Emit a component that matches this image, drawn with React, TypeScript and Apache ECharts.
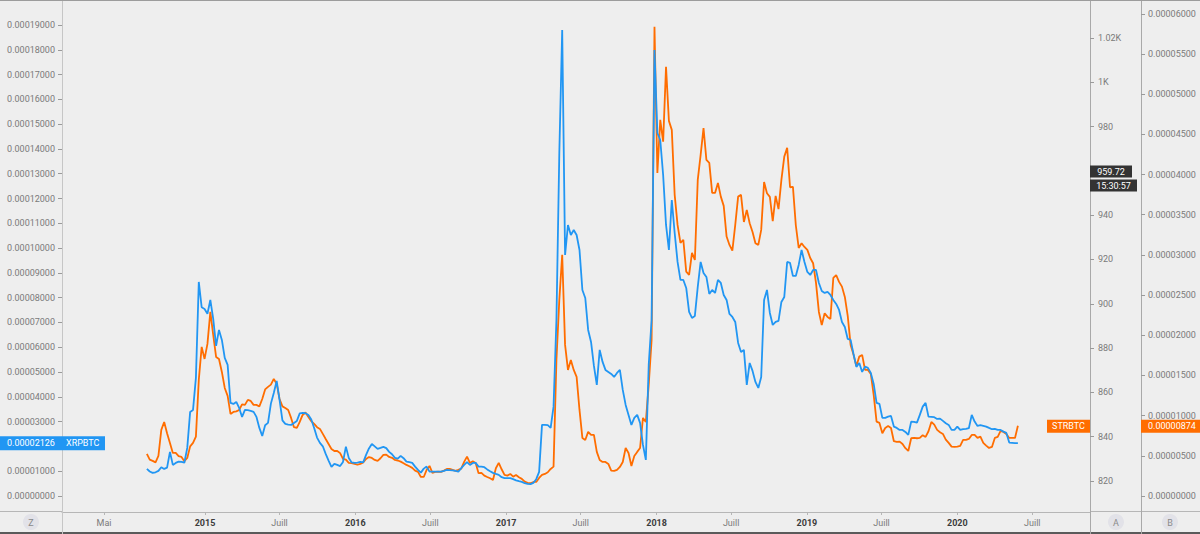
import React, { useEffect, useRef } from 'react';
import * as echarts from 'echarts';

// ---- data (weekly samples starting at START_DATE) ----
const START_DATE = '2014-08-13';
const STEP_DAYS = 7;
const SAT = 1e-8; // values below are in satoshi

// XRPBTC (blue, left scale)
const XRP_SATS = [
  1089, 984, 928, 952, 1009, 1158, 1089, 1138, 1775, 1251,
  1331, 1384, 1372, 1339, 1936, 3389, 3469, 4760, 8633, 7612,
  7544, 7350, 7907, 7140, 6051, 6696, 6293, 5567, 5285, 3752,
  3711, 3792, 3550, 3187, 3469, 3457, 3429, 3389, 3187, 2743,
  2420, 2852, 2945, 3723, 4155, 4639, 3873, 3046, 2904, 2880,
  2864, 2945, 3026, 3328, 3348, 3336, 3268, 3086, 2743, 2352,
  2138, 2001, 1694, 1424, 1170, 1295, 1251, 1202, 1372, 1989,
  1533, 1351, 1331, 1343, 1372, 1351, 1654, 1916, 2098, 1997,
  1896, 1936, 1977, 1928, 1775, 1678, 1533, 1501, 1614, 1521,
  1384, 1359, 1331, 1182, 1049, 940, 1100, 1182, 980, 980,
  980, 980, 980, 1009, 1049, 1037, 1029, 1009, 980, 1117,
  1251, 1359, 1251, 1331, 1331, 1182, 1182, 1158, 1069, 996,
  928, 887, 847, 754, 714, 714, 714, 674, 625, 593,
  565, 512, 484, 472, 524, 674, 968, 2864, 2864, 2852,
  2743, 3602, 7100, 13824, 18798, 9722, 10932, 10529, 10730, 10529,
  9924, 8310, 7987, 6696, 6212, 5244, 4478, 5890, 5406, 5083,
  5002, 4921, 4800, 4962, 5083, 4276, 3671, 3268, 2864, 3147,
  3268, 2945, 2057, 1452, 5285, 7100, 17992, 14643, 14361, 12949,
  10932, 9924, 11941, 10609, 9440, 8713, 8713, 8391, 7423, 7181,
  7261, 8431, 9440, 8996, 8834, 8149, 8310, 8189, 8713, 8592,
  8108, 7907, 7342, 7221, 7019, 6172, 5809, 5890, 4478, 5365,
  5043, 4599, 4357, 4800, 7907, 8310, 7382, 6898, 7019, 7060,
  7826, 8028, 9440, 9399, 8875, 8875, 9319, 9924, 9440, 9036,
  8915, 9117, 9117, 8592, 8270, 8189, 8229, 8108, 7907, 7745,
  7503, 7019, 6817, 6333, 6293, 5728, 5204, 5365, 5002, 5216,
  5164, 4962, 4518, 3752, 3711, 3147, 3147, 3199, 3227, 2796,
  2743, 2662, 2662, 2582, 2461, 2997, 2985, 2957, 3268, 3602,
  3752, 3199, 3187, 3175, 3106, 3118, 3026, 2933, 2864, 2662,
  2662, 2796, 2662, 2691, 2703, 2731, 3268, 2997, 2824, 2852,
  2824, 2796, 2743, 2691, 2703, 2662, 2662, 2594, 2541, 2150,
  2138, 2126, 2126,
];

// STRBTC (orange, right scale B)
const STR_SATS = [
  523, 451, 436, 418, 498, 822, 921, 779, 660, 535,
  535, 495, 485, 433, 473, 617, 660, 738, 1444, 1855,
  1705, 1892, 2290, 2004, 1730, 1705, 1543, 1344, 1245, 1021,
  1046, 1053, 1070, 1140, 1133, 1195, 1182, 1133, 1133, 1114,
  1207, 1326, 1357, 1385, 1456, 1397, 1207, 1115, 1095, 1070,
  971, 855, 846, 921, 1008, 1038, 983, 931, 896, 856,
  834, 772, 709, 647, 585, 559, 560, 533, 461, 451,
  411, 407, 398, 388, 398, 417, 461, 484, 473, 448,
  436, 469, 510, 514, 485, 474, 448, 441, 427, 407,
  386, 370, 349, 315, 299, 236, 236, 324, 373, 286,
  299, 302, 299, 315, 336, 336, 324, 311, 324, 340,
  423, 489, 411, 432, 411, 283, 286, 253, 236, 220,
  199, 345, 411, 332, 261, 253, 274, 240, 261, 233,
  212, 178, 162, 158, 174, 174, 224, 261, 274, 295,
  336, 365, 1693, 2440, 3000, 1880, 1568, 1693, 1568, 1481,
  1070, 722, 697, 797, 759, 759, 548, 448, 423, 423,
  398, 315, 311, 324, 361, 423, 597, 535, 373, 498,
  548, 597, 971, 921, 1382, 1942, 5838, 4020, 4680, 4410,
  5340, 4668, 4556, 3747, 3373, 3149, 3186, 2792, 2751, 3025,
  2937, 3933, 4244, 4577, 4182, 4145, 3771, 3771, 3896, 3725,
  3610, 3228, 3124, 3053, 3373, 3725, 3747, 3410, 3560, 3394,
  3286, 3145, 3124, 3311, 3908, 3768, 3722, 3419, 3734, 3569,
  3933, 4223, 4332, 3842, 3846, 3369, 3087, 3145, 3099, 3062,
  2962, 2896, 2651, 2290, 2128, 2274, 2228, 2203, 2713, 2747,
  2664, 2605, 2477, 2240, 1880, 1759, 1618, 1734, 1755, 1568,
  1568, 1519, 1257, 925, 909, 780, 846, 871, 846, 681,
  672, 676, 647, 594, 560, 718, 722, 718, 722, 756,
  734, 805, 921, 887, 822, 793, 772, 701, 660, 614,
  610, 614, 622, 697, 697, 709, 759, 759, 722, 738,
  660, 626, 597, 610, 722, 734, 809, 797, 772, 722,
  722, 722, 874,
];

const LAST_XRP = 0.00002126;
const LAST_STR = 0.00000874;
const A_MARK = 959.72;
const A_TIME = '15:30:57';

// ---- axes ----
const X_MIN = '2014-01-19';
const X_MAX = '2020-11-18';
const X_TICKS = [
  '2014-05-01', '2015-01-01', '2015-07-01', '2016-01-01', '2016-07-01', '2017-01-01', '2017-07-01',
  '2018-01-01', '2018-07-01', '2019-01-01', '2019-07-01', '2020-01-01', '2020-07-01',
];
const X_TICK_LABELS = ['Mai', '2015', 'Juill', '2016', 'Juill', '2017', 'Juill', '2018', 'Juill', '2019', 'Juill', '2020', 'Juill'];

const LEFT_MIN = -0.0000065;
const LEFT_MAX = 0.0001997;
const LEFT_TICKS = [
  0, 0.00001, 0.00002, 0.00003, 0.00004, 0.00005, 0.00006, 0.00007, 0.00008, 0.00009,
  0.0001, 0.00011, 0.00012, 0.00013, 0.00014, 0.00015, 0.00016, 0.00017, 0.00018, 0.00019,
];
// 0.00002000 is hidden under the XRPBTC price tag in the reference
const LEFT_LABELS = LEFT_TICKS.filter((v) => v !== 0.00002);
const A_MIN = 806;
const A_MAX = 1036.7;
const A_TICKS = [820, 840, 860, 880, 900, 920, 940, 960, 980, 1000, 1020];
// 960 is hidden under the 959.72 marker in the reference
const A_LABELS = A_TICKS.filter((v) => v !== 960);
const B_MIN = -0.000002;
const B_MAX = 0.0000616;
const B_TICKS = [
  0, 0.000005, 0.00001, 0.000015, 0.00002, 0.000025, 0.00003, 0.000035, 0.00004, 0.000045,
  0.00005, 0.000055, 0.00006,
];

const FONT = 'Roboto, "Noto Sans", sans-serif';
const BLUE = '#2196f3';
const ORANGE = '#ff6d00';
const BG = '#eeeeee';
const LABEL = '#7a7a7a';

export default function App() {
  const ref = useRef<HTMLDivElement>(null);

  useEffect(() => {
    const el = ref.current;
    if (!el) return;
    const chart = echarts.init(el, null, { renderer: 'svg' });

    const DAY = 86400000;
    const start = Date.parse(START_DATE);
    const dates = XRP_SATS.map((_, i) => start + i * STEP_DAYS * DAY);
    const xTickTs = X_TICKS.map((d) => Date.parse(d));
    const labelFor = (v: number) => {
      let best = 0;
      let bd = Infinity;
      xTickTs.forEach((t, i) => {
        const d = Math.abs(t - v);
        if (d < bd) { bd = d; best = i; }
      });
      return X_TICK_LABELS[best];
    };

    const yAxisBase = (extra: any) => ({
      type: 'value',
      splitLine: { show: false },
      axisLine: { show: true, onZero: false, lineStyle: { color: '#a9a9a9', width: 1 } },
      ...extra,
    });

    chart.setOption({
      animation: false,
      backgroundColor: BG,
      textStyle: { fontFamily: FONT },
      grid: { left: 62, right: 110, top: 1, bottom: 22, containLabel: false },
      xAxis: {
        type: 'value',
        min: Date.parse(X_MIN),
        max: Date.parse(X_MAX),
        splitLine: { show: false },
        axisLine: { show: true, onZero: false, lineStyle: { color: '#b6b6b6' } },
        axisTick: { show: true, customValues: xTickTs, length: 3, lineStyle: { color: '#b6b6b6' } },
        axisLabel: {
          customValues: xTickTs,
          margin: 6,
          formatter: (v: number) => {
            const k = labelFor(v);
            return /^\d{4}$/.test(k) ? `{y|${k}}` : `{m|${k}}`;
          },
          rich: {
            y: { fontWeight: 'bold', color: '#3c3c3c', fontSize: 9, fontFamily: FONT },
            m: { color: LABEL, fontSize: 9, fontFamily: FONT },
          },
        },
      },
      yAxis: [
        yAxisBase({
          position: 'left',
          min: LEFT_MIN,
          max: LEFT_MAX,
          axisLine: { show: true, onZero: false, lineStyle: { color: '#c6c6c6' } },
          axisTick: { show: true, customValues: LEFT_TICKS, length: 4, lineStyle: { color: '#9a9a9a' } },
          axisLabel: {
            customValues: LEFT_LABELS,
            margin: 7,
            fontSize: 9,
            color: LABEL,
            fontFamily: FONT,
            formatter: (v: number) => v.toFixed(8),
          },
        }),
        yAxisBase({
          position: 'right',
          offset: 0,
          min: A_MIN,
          max: A_MAX,
          axisTick: { show: true, customValues: A_TICKS, length: 4, lineStyle: { color: '#9a9a9a' } },
          axisLabel: {
            customValues: A_LABELS,
            margin: 8,
            fontSize: 9,
            color: LABEL,
            fontFamily: FONT,
            formatter: (v: number) => (v >= 1000 ? `${Math.round(v) / 1000}K` : String(Math.round(v))),
          },
        }),
        yAxisBase({
          position: 'right',
          offset: 51,
          min: B_MIN,
          max: B_MAX,
          axisTick: { show: true, customValues: B_TICKS, length: 4, lineStyle: { color: '#9a9a9a' } },
          axisLabel: {
            customValues: B_TICKS,
            margin: 7,
            fontSize: 9,
            color: LABEL,
            fontFamily: FONT,
            formatter: (v: number) => v.toFixed(8),
          },
        }),
      ],
      series: [
        {
          type: 'line',
          name: 'XRPBTC',
          yAxisIndex: 0,
          data: dates.map((d, i) => [d, XRP_SATS[i] * SAT]),
          showSymbol: false,
          symbol: 'none',
          lineStyle: { color: BLUE, width: 1.8 },
          itemStyle: { color: BLUE },
          z: 3,
        },
        {
          type: 'line',
          name: 'STRBTC',
          yAxisIndex: 2,
          data: dates.map((d, i) => [d, STR_SATS[i] * SAT]),
          showSymbol: false,
          symbol: 'none',
          lineStyle: { color: ORANGE, width: 1.8 },
          itemStyle: { color: ORANGE },
          z: 2,
        },
      ],
    });

    const yX = chart.convertToPixel({ yAxisIndex: 0 }, LAST_XRP) as number;
    const yS = chart.convertToPixel({ yAxisIndex: 2 }, LAST_STR) as number;
    const yA = chart.convertToPixel({ yAxisIndex: 1 }, A_MARK) as number;

    const txt = (text: string, x: number, y: number, fill: string, align = 'left', weight = 'normal') => ({
      type: 'text',
      z: 100,
      style: { text, x, y, fill, fontSize: 9, fontFamily: FONT, fontWeight: weight, align, verticalAlign: 'middle' },
    });
    const rect = (x: number, y: number, w: number, h: number, fill: string) => ({
      type: 'rect',
      z: 99,
      shape: { x, y, width: w, height: h },
      style: { fill },
    });
    const line = (x1: number, y1: number, x2: number, y2: number, stroke: string, w = 1) => ({
      type: 'line',
      z: 98,
      shape: { x1, y1, x2, y2 },
      style: { stroke, lineWidth: w },
    });
    const circ = (cx: number, cy: number, label: string) => [
      { type: 'circle', z: 99, shape: { cx, cy, r: 8 }, style: { fill: '#e2e2e8' } },
      txt(label, cx, cy + 0.5, '#8a8a8a', 'center'),
    ];

    chart.setOption({
      graphic: [
        line(0, 0.5, 1200, 0.5, '#9c9c9c', 1),
        line(0, 533, 1200, 533, '#5a5a5a', 2),
        line(0, 511.5, 62, 511.5, '#b6b6b6'),
        line(1090, 511.5, 1200, 511.5, '#b6b6b6'),
        line(62.5, 511, 62.5, 534, '#c6c6c6'),
        line(1090.5, 511, 1090.5, 534, '#a9a9a9'),
        line(1141.5, 511, 1141.5, 534, '#a9a9a9'),
        ...circ(31, 522, 'Z'),
        ...circ(1116, 522, 'A'),
        ...circ(1170, 522, 'B'),
        rect(0, yX - 7, 105, 14, BLUE),
        line(58, yX, 62, yX, '#ffffff'),
        txt('0.00002126', 7, yX, '#ffffff'),
        txt('XRPBTC', 66, yX, '#ffffff'),
        rect(1047, yS - 6, 43, 13, ORANGE),
        txt('STRBTC', 1068.5, yS + 0.5, '#ffffff', 'center'),
        rect(1141, yS - 6, 59, 13, ORANGE),
        line(1141, yS, 1145, yS, '#ffffff'),
        txt('0.00000874', 1148, yS + 0.5, '#ffffff'),
        rect(1090, yA - 6, 42, 12, '#333333'),
        line(1090, yA, 1094, yA, '#ffffff'),
        txt(String(A_MARK), 1111, yA, '#ffffff', 'center'),
        rect(1090, yA + 8, 47, 12, '#333333'),
        txt(A_TIME, 1113.5, yA + 14, '#ffffff', 'center'),
      ],
    });

    return () => chart.dispose();
  }, []);

  return (
    <div
      ref={ref}
      style={{ position: 'fixed', left: 0, top: 0, width: 1200, height: 534, background: BG }}
    />
  );
}
